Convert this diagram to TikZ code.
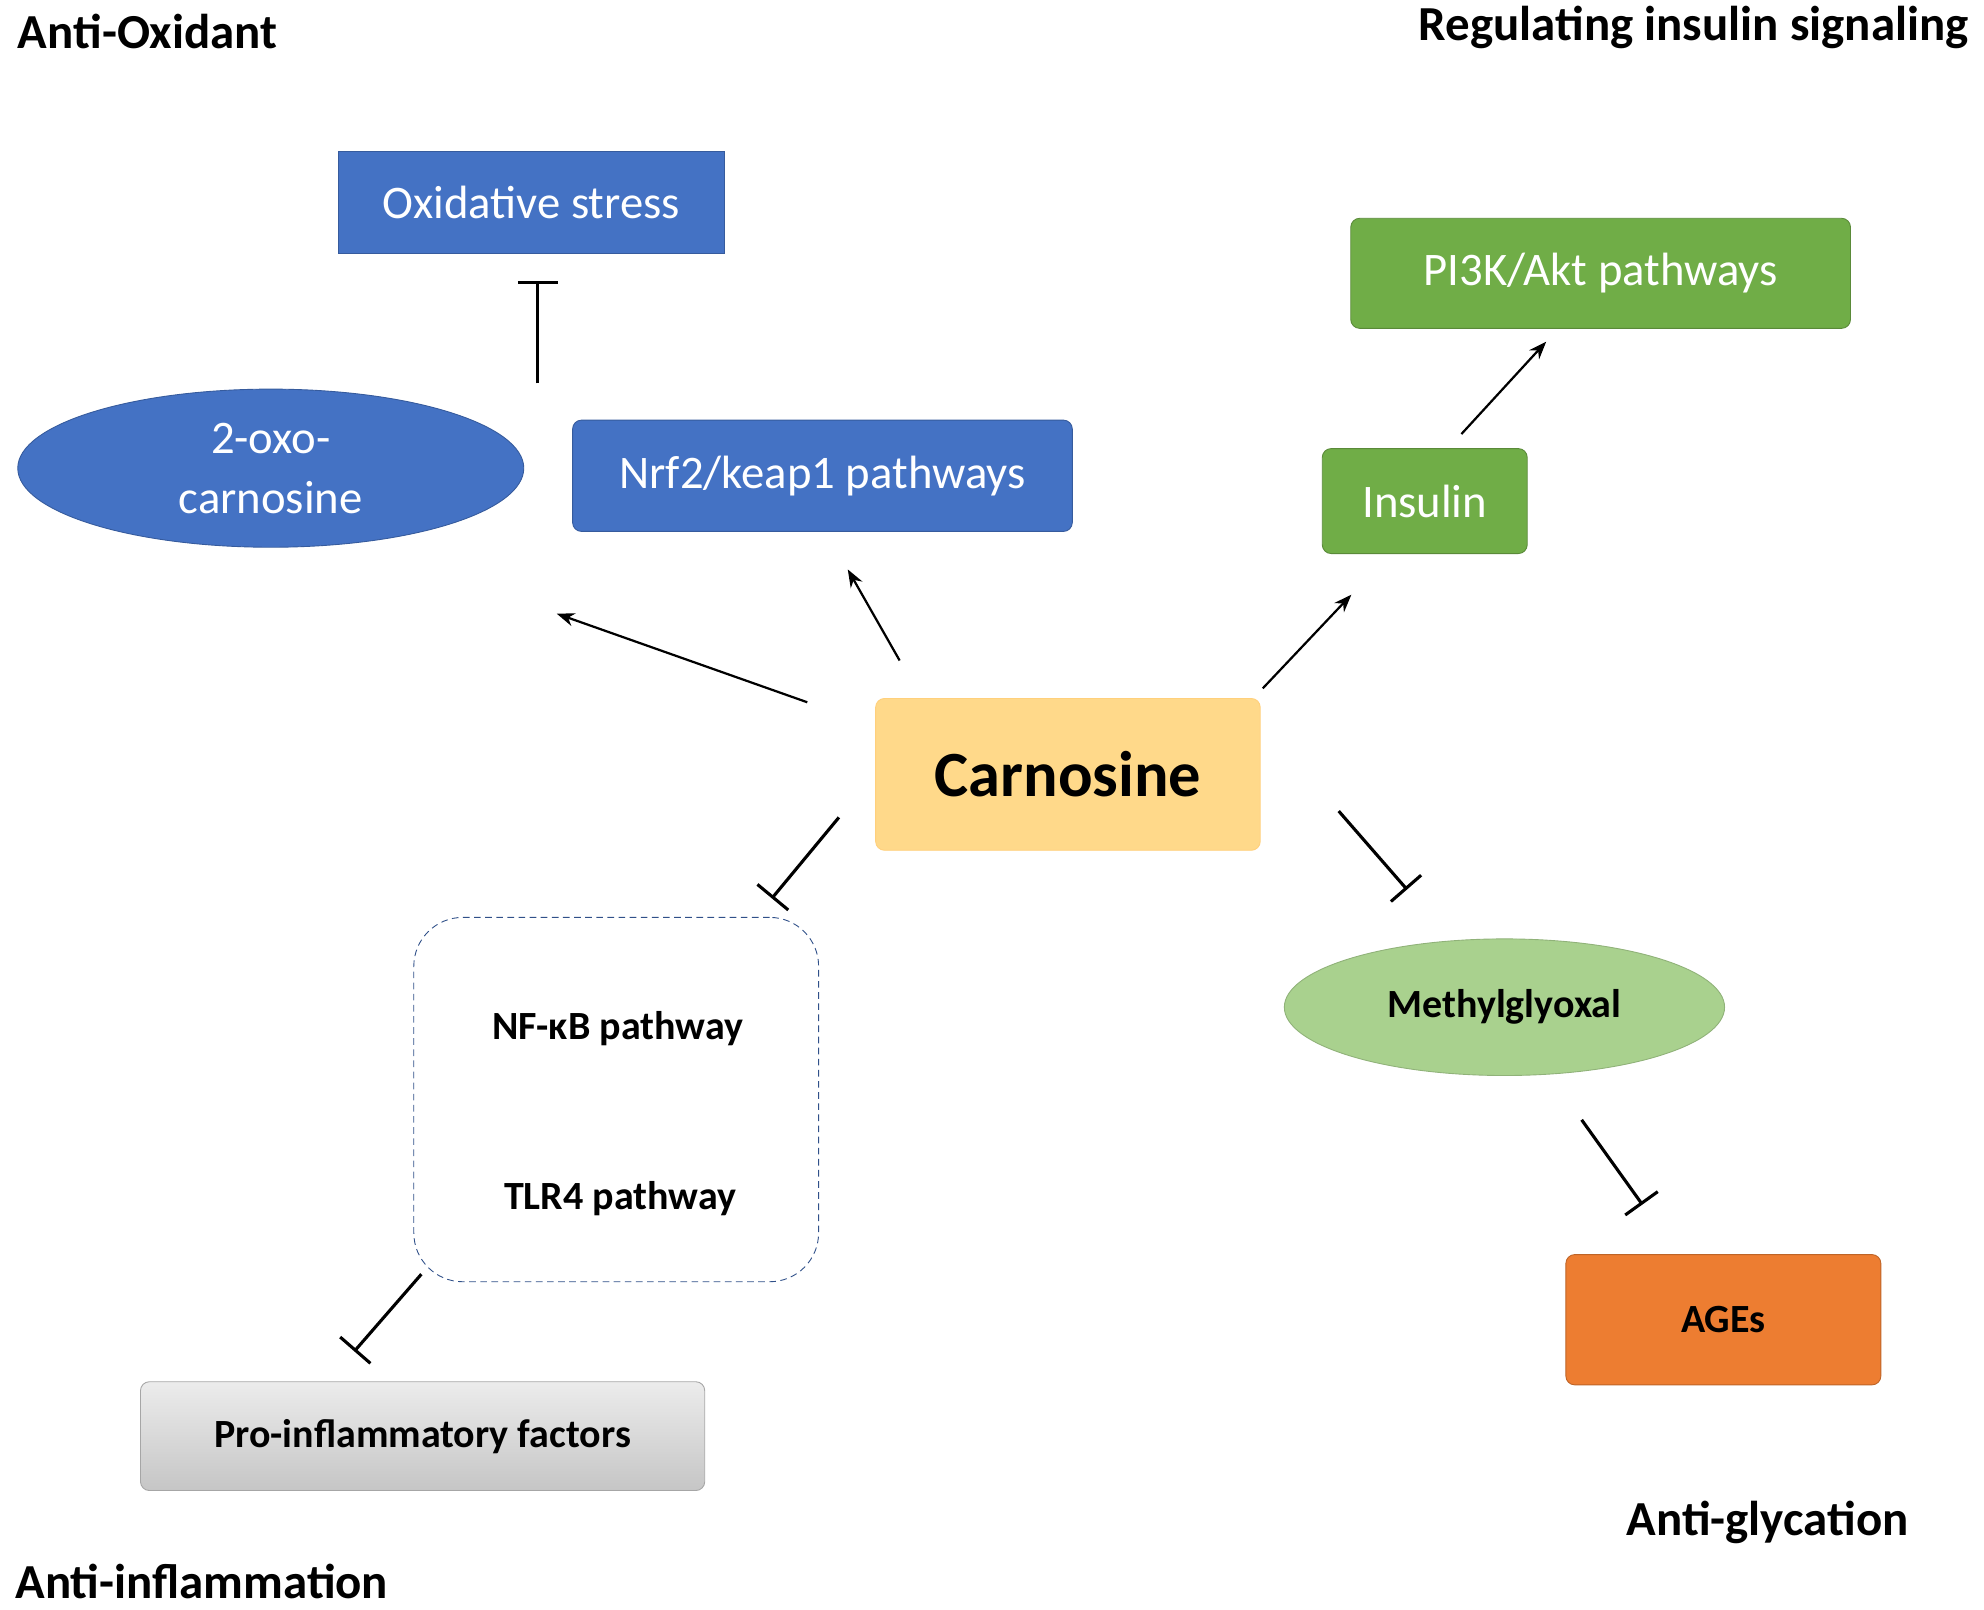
\documentclass[tikz,border=0pt]{standalone}
\usepackage{fontspec}
\setmainfont{Carlito}
\usetikzlibrary{arrows.meta,shapes.geometric,positioning}
\definecolor{oxblue}{HTML}{4472C4}
\definecolor{insgreen}{HTML}{70AD47}
\definecolor{mgreen}{HTML}{A9D18E}
\definecolor{carn}{HTML}{FFD98A}
\definecolor{ages}{HTML}{ED7D31}
\tikzset{
  box/.style={draw=#1!80!black,fill=#1,rounded corners=4pt,text=white,font=\fontsize{21}{24}\selectfont,inner sep=0pt},
  head/.style={font=\bfseries\fontsize{22}{26}\selectfont},
  small/.style={font=\bfseries\fontsize{18}{21}\selectfont},
  act/.style={-{Stealth[length=8pt,width=6pt]},line width=1pt},
  inh/.style={-{Bar[width=18pt]},line width=1.4pt}
}
\begin{document}
\begin{tikzpicture}[x=0.02cm,y=-0.02cm]
\useasboundingbox (0,0) rectangle (1568,1272);
% section titles
\node[head,anchor=west] (tox) at (8,25) {Anti-Oxidant};
\node[head,anchor=east] (tins) at (1562,22) {Regulating insulin signaling};
\node[head] (tgly) at (1397,1203) {Anti-glycation};
\node[head,anchor=south west] (tinf) at (6,1270) {Anti-inflammation};
% anti-oxidant branch
\node[box=oxblue,rounded corners=0pt,minimum width=6.1cm,minimum height=1.6cm] (ox) at (420,160) {Oxidative stress};
\node[ellipse,fill=oxblue,draw=oxblue!80!black,text=white,minimum width=8cm,minimum height=2.5cm,align=center,font=\fontsize{21}{27}\selectfont,inner sep=0pt] (oxo) at (214,370) {2-oxo-\\carnosine};
\node[box=oxblue,minimum width=7.9cm,minimum height=1.76cm] (nrf) at (650,376) {Nrf2/keap1 pathways};
% insulin branch
\node[box=insgreen,minimum width=7.9cm,minimum height=1.74cm] (pik) at (1265,216) {PI3K/Akt pathways};
\node[box=insgreen,minimum width=3.24cm,minimum height=1.66cm] (ins) at (1126,396) {Insulin};
% centre
\node[box=carn,draw=carn!90!orange,text=black,font=\bfseries\fontsize{29}{34}\selectfont,minimum width=6.08cm,minimum height=2.4cm] (car) at (844,612) {Carnosine};
% glycation branch
\node[ellipse,fill=mgreen,draw=mgreen!85!black,minimum width=6.96cm,minimum height=2.16cm,small] (mgo) at (1189,796) {Methylglyoxal};
\node[box=ages,text=black,small,minimum width=4.98cm,minimum height=2.06cm] (age) at (1362,1043) {AGEs};
% inflammation branch
\node[draw=oxblue!70!black,densely dashed,rounded corners=22pt,minimum width=6.4cm,minimum height=5.76cm] (nfb) at (487,869) {};
\node[small] (nfk) at (488,813) {NF-κB pathway};
\node[small] (tlr) at (490,947) {TLR4 pathway};
\node[draw=gray!70,top color=gray!15,bottom color=gray!45,rounded corners=4pt,small,minimum width=8.92cm,minimum height=1.72cm] (pro) at (334,1135) {Pro-inflammatory factors};
% connector ends
\coordinate (a1) at (638,555); \coordinate (a1e) at (440,485);
\coordinate (a2) at (711,522); \coordinate (a2e) at (670,450);
\coordinate (a3) at (998,544); \coordinate (a3e) at (1068,470);
\coordinate (a4) at (1155,343); \coordinate (a4e) at (1222,270);
\coordinate (i1) at (425,303); \coordinate (i1e) at (425,222);
\coordinate (i2) at (663,646); \coordinate (i2e) at (610,710);
\coordinate (i3) at (1058,641); \coordinate (i3e) at (1112,703);
\coordinate (i4) at (1250,885); \coordinate (i4e) at (1298,952);
\coordinate (i5) at (333,1007); \coordinate (i5e) at (280,1068);
\draw[act] (a1) -- (a1e);
\draw[act] (a2) -- (a2e);
\draw[act] (a3) -- (a3e);
\draw[act] (a4) -- (a4e);
\draw[inh] (i1) -- (i1e);
\draw[inh] (i2) -- (i2e);
\draw[inh] (i3) -- (i3e);
\draw[inh] (i4) -- (i4e);
\draw[inh] (i5) -- (i5e);
\end{tikzpicture}
\end{document}
